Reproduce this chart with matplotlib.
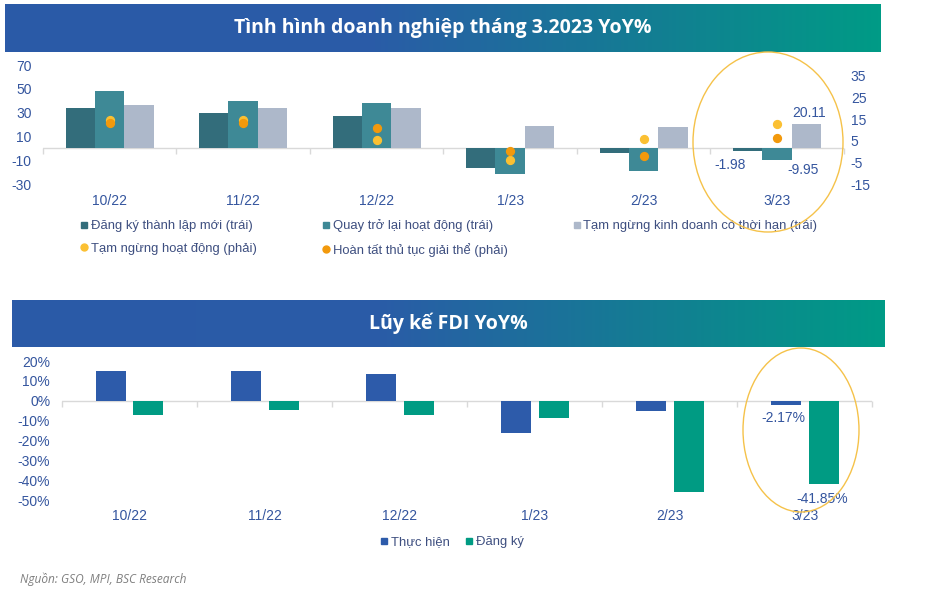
import numpy as np
import matplotlib.pyplot as plt
from matplotlib.colors import LinearSegmentedColormap
from matplotlib.lines import Line2D
from matplotlib.patches import Ellipse
from matplotlib.ticker import FuncFormatter

plt.rcParams['font.family'] = ['Liberation Sans', 'DejaVu Sans']
plt.rcParams['axes.unicode_minus'] = False

# ====================
# DỮ LIỆU
# ====================
thang = ['10/22', '11/22', '12/22', '1/23', '2/23', '3/23']

# Tình hình doanh nghiệp (trục trái, %)
dang_ky_moi = [34, 30, 27, -16.5, -3.5, -1.98]
quay_tro_lai = [48.5, 40, 38, -21.5, -19, -9.95]
tam_ngung_kd = [36.5, 34, 34, 19, 18, 20.11]
# trục phải
tam_ngung_hd = [14.8, 14.5, 5.4, -3.9, 5.7, 12.8]
hoan_tat_giai_the = [13.2, 13.1, 10.8, 0.4, -1.9, 6.3]

# Lũy kế FDI YoY (%)
fdi_thuc_hien = [15.2, 15.0, 13.3, -16.3, -5.0, -2.17]
fdi_dang_ky = [-7.3, -4.7, -7.3, -8.9, -45.8, -41.85]

labels_top = ['Đăng ký thành lập mới (trái)', 'Quay trở lại hoạt động (trái)',
              'Tạm ngừng kinh doanh có thời hạn (trái)',
              'Tạm ngừng hoạt động (phải)', 'Hoàn tất thủ tục giải thể (phải)']
labels_fdi = ['Thực hiện', 'Đăng ký']

# màu
c_dk, c_qt, c_tn = '#336D7B', '#3E8996', '#ADB8CA'
c_y, c_o = '#FBC032', '#F2990C'
c_blue, c_green = '#2D5BAA', '#009B83'
c_tick = '#34559E'
c_leg = '#3E4F80'
c_axis = '#D9D9D9'
c_circle = '#F5C24A'

banner_cmap = LinearSegmentedColormap.from_list(
    'banner', [(0, '#2B5AA8'), (0.42, '#2A5CA7'), (0.75, '#127F92'), (1.0, '#009B86')])

fig = plt.figure(figsize=(9.4, 5.9), dpi=100)


def banner(rect, text):
    bax = fig.add_axes(rect)
    grad = np.linspace(0, 1, 256).reshape(1, -1)
    bax.imshow(grad, aspect='auto', cmap=banner_cmap, extent=[0, 1, 0, 1])
    bax.set_axis_off()
    bax.text(0.5, 0.5, text, color='white', fontsize=14, fontweight='bold',
             family=['Open Sans', 'DejaVu Sans'], ha='center', va='center',
             transform=bax.transAxes)


def style_axis(ax):
    for s in ax.spines.values():
        s.set_visible(False)
    ax.tick_params(axis='both', length=0, labelsize=10, labelcolor=c_tick)


x = np.arange(len(thang))
leg_prop = {'family': ['Liberation Sans Narrow', 'Liberation Sans'], 'size': 9.4}

# ====================
# BIỂU ĐỒ 1
# ====================
banner([0.0053, 0.9119, 0.9309, 0.0814], 'Tình hình doanh nghiệp tháng 3.2023 YoY%')

ax1 = fig.add_axes([0.0457, 0.688, 0.852, 0.2017])
w = 0.22
ax1.axhline(0, color=c_axis, lw=1, zorder=0)
ax1.plot(np.arange(-0.5, len(thang)), np.zeros(len(thang) + 1), ls='none', marker=3,
         ms=4, mew=1, color=c_axis, clip_on=False, zorder=0)
ax1.bar(x - w, dang_ky_moi, w, color=c_dk)
ax1.bar(x, quay_tro_lai, w, color=c_qt)
ax1.bar(x + w, tam_ngung_kd, w, color=c_tn)
ax1.set_xlim(-0.5, len(thang) - 0.5)
ax1.set_ylim(-30, 70)
ax1.set_yticks(range(-30, 71, 20))
ax1.set_xticks(x, thang)
style_axis(ax1)
ax1.tick_params(axis='y', pad=8)
ax1.tick_params(axis='x', pad=7)

ax1r = ax1.twinx()
ax1r.scatter(x, tam_ngung_hd, s=32, color=c_y, zorder=3)
ax1r.scatter(x, hoan_tat_giai_the, s=32, color=c_o, zorder=3)
ax1r.set_ylim(-15, 40)
ax1r.set_yticks(range(-15, 36, 10))
style_axis(ax1r)
ax1r.tick_params(axis='y', pad=5)

i = len(thang) - 1
ann = dict(textcoords='offset points', ha='center', va='center', fontsize=10, color=c_tick)
ax1.annotate(f'{dang_ky_moi[i]:.2f}', (x[i] - w, dang_ky_moi[i]), xytext=(-12.5, -10), **ann)
ax1.annotate(f'{quay_tro_lai[i]:.2f}', (x[i], quay_tro_lai[i]), xytext=(18.5, -7), **ann)
ax1.annotate(f'{tam_ngung_kd[i]:.2f}', (x[i] + w, tam_ngung_kd[i]), xytext=(2, 8.5), **ann)

h_top = [Line2D([], [], ls='none', marker='s', ms=5, color=c_dk),
         Line2D([], [], ls='none', marker='o', ms=5, color=c_y),
         Line2D([], [], ls='none', marker='s', ms=5, color=c_qt),
         Line2D([], [], ls='none', marker='o', ms=5, color=c_o),
         Line2D([], [], ls='none', marker='s', ms=5, color=c_tn)]
l_top = [labels_top[0], labels_top[3], labels_top[1], labels_top[4], labels_top[2]]
leg1 = fig.legend(h_top, l_top, loc='center left', bbox_to_anchor=(74 / 940, 1 - 238 / 590),
                  ncol=3, frameon=False, handlelength=0.6, handletextpad=0.2,
                  columnspacing=5.0, labelspacing=0.8, borderpad=0, prop=leg_prop)
for t in leg1.get_texts():
    t.set_color(c_leg)

fig.add_artist(Ellipse((768 / 940, 1 - 142 / 590), 150 / 940, 180 / 590,
                       transform=fig.transFigure, fill=False, ec=c_circle, lw=1, zorder=10))

# ====================
# BIỂU ĐỒ 2
# ====================
banner([0.01277, 0.4119, 0.9287, 0.0797], 'Lũy kế FDI YoY%')

ax2 = fig.add_axes([0.066, 0.1525, 0.862, 0.2356])
w2, off = 0.222, 0.14
ax2.axhline(0, color=c_axis, lw=1, zorder=0)
ax2.plot(np.arange(-0.5, len(thang)), np.zeros(len(thang) + 1), ls='none', marker=3,
         ms=4, mew=1, color=c_axis, clip_on=False, zorder=0)
ax2.bar(x - off, fdi_thuc_hien, w2, color=c_blue)
ax2.bar(x + off, fdi_dang_ky, w2, color=c_green)
ax2.set_xlim(-0.5, len(thang) - 0.5)
ax2.set_ylim(-50, 20)
ax2.set_yticks(range(-50, 21, 10))
ax2.yaxis.set_major_formatter(FuncFormatter(lambda v, p: f'{v:.0f}%'))
ax2.set_xticks(x, thang)
style_axis(ax2)
ax2.tick_params(axis='y', pad=8.5)
ax2.tick_params(axis='x', pad=6.5)

ax2.annotate(f'{fdi_thuc_hien[i]:.2f}%', (x[i] - off, fdi_thuc_hien[i]), xytext=(-2, -9.5), **ann)
ax2.annotate(f'{fdi_dang_ky[i]:.2f}%', (x[i] + off, fdi_dang_ky[i]), xytext=(-1, -11), **ann)

h_fdi = [Line2D([], [], ls='none', marker='s', ms=5, color=c_blue),
         Line2D([], [], ls='none', marker='s', ms=5, color=c_green)]
leg2 = fig.legend(h_fdi, labels_fdi, loc='center', bbox_to_anchor=(452 / 940, 1 - 542 / 590),
                  ncol=2, frameon=False, handlelength=0.6, handletextpad=0.2,
                  columnspacing=1.2, borderpad=0, prop=leg_prop)
for t in leg2.get_texts():
    t.set_color(c_leg)

fig.add_artist(Ellipse((801 / 940, 1 - 430 / 590), 116 / 940, 164 / 590,
                       transform=fig.transFigure, fill=False, ec=c_circle, lw=1, zorder=10))

fig.text(20 / 940, 1 - 579 / 590, 'Nguồn: GSO, MPI, BSC Research', style='italic',
         color='#7F7F7F', fontsize=8.6, family=['Open Sans', 'DejaVu Sans'], va='center')

fig.savefig('out.png', dpi=100)
